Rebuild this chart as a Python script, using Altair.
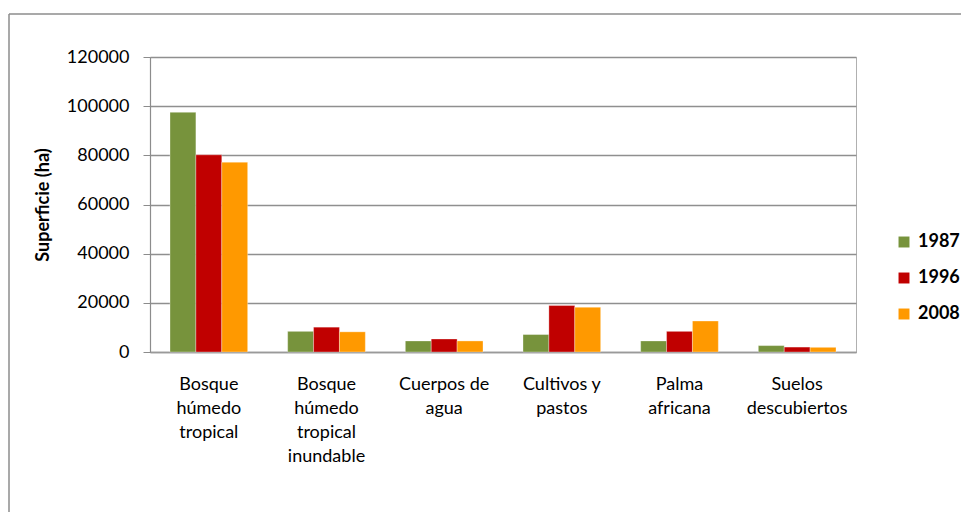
import altair as alt
import pandas as pd

categories = [
    "Bosque\nhúmedo\ntropical",
    "Bosque\nhúmedo\ntropical\ninundable",
    "Cuerpos de\nagua",
    "Cultivos y\npastos",
    "Palma\nafricana",
    "Suelos\ndescubiertos",
]
years = ["1987", "1996", "2008"]
v1987 = [97500, 8400, 4500, 7100, 4500, 2600]
v1996 = [80200, 10100, 5300, 18900, 8400, 2000]
v2008 = [77200, 8200, 4500, 18200, 12600, 1900]
colors = ["#77933C", "#C00000", "#FF9900"]

rows = []
for yr, vals in zip(years, [v1987, v1996, v2008]):
    for c, v in zip(categories, vals):
        rows.append({"cat": c, "year": yr, "value": v})
df = pd.DataFrame(rows)

FONT = "Lato"

bars = alt.Chart(df).mark_bar(stroke="#ffffff", strokeOpacity=0.4, strokeWidth=0.8).encode(
    x=alt.X(
        "cat:N",
        sort=categories,
        scale=alt.Scale(paddingInner=0.34, paddingOuter=0.17),
        axis=alt.Axis(
            title=None,
            labelAngle=0,
            labelExpr="split(datum.label, '\\n')",
            labelFont=FONT,
            labelFontSize=18,
            labelColor="#000000",
            labelLineHeight=24,
            labelPadding=23,
            ticks=False,
            domainColor="#9a9a9a",
            domainWidth=1.5,
            labelBaseline="top",
        ),
    ),
    xOffset=alt.XOffset("year:N", sort=years),
    y=alt.Y(
        "value:Q",
        scale=alt.Scale(domain=[0, 120000], nice=False),
        axis=alt.Axis(
            title="Superficie (ha)",
            values=[0, 20000, 40000, 60000, 80000, 100000, 120000],
            format="d",
            labelFont=FONT,
            labelFontSize=18,
            labelColor="#000000",
            labelPadding=14,
            tickSize=7,
            tickColor="#8c8c8c",
            domainColor="#8c8c8c",
            domainWidth=1.2,
            gridColor="#8f8f8f",
            gridWidth=1.4,
            titleFont=FONT,
            titleFontSize=18,
            titleFontWeight="bold",
            titleColor="#000000",
            titlePadding=14,
        ),
    ),
    color=alt.Color(
        "year:N",
        sort=years,
        scale=alt.Scale(domain=years, range=colors),
        legend=alt.Legend(
            title=None,
            orient="none",
            legendX=745,
            legendY=176,
            symbolType="square",
            symbolSize=120,
            symbolStrokeWidth=0,
            labelFont=FONT,
            labelFontSize=18,
            labelFontWeight="bold",
            labelColor="#000000",
            rowPadding=18,
            labelOffset=5,
        ),
    ),
)

frame_data = alt.Data(values=[{"a": 1}])
frame_left = alt.Chart(frame_data).mark_rule(color="#8c8c8c", strokeWidth=1.5).encode(
    x=alt.value(-141), y=alt.value(-43), y2=alt.value(600)
)
frame_top = alt.Chart(frame_data).mark_rule(color="#8c8c8c", strokeWidth=1.5).encode(
    x=alt.value(-141), x2=alt.value(1000), y=alt.value(-43)
)

chart = alt.layer(bars, frame_left, frame_top).properties(
    width=706,
    height=295,
    padding={"left": 142, "top": 49, "right": 105, "bottom": 160},
    autosize=alt.AutoSizeParams(type="none"),
).configure_view(stroke="#b0b0b0", strokeWidth=1)

chart.save("out.html", embed_options={"renderer": "svg", "actions": False})
